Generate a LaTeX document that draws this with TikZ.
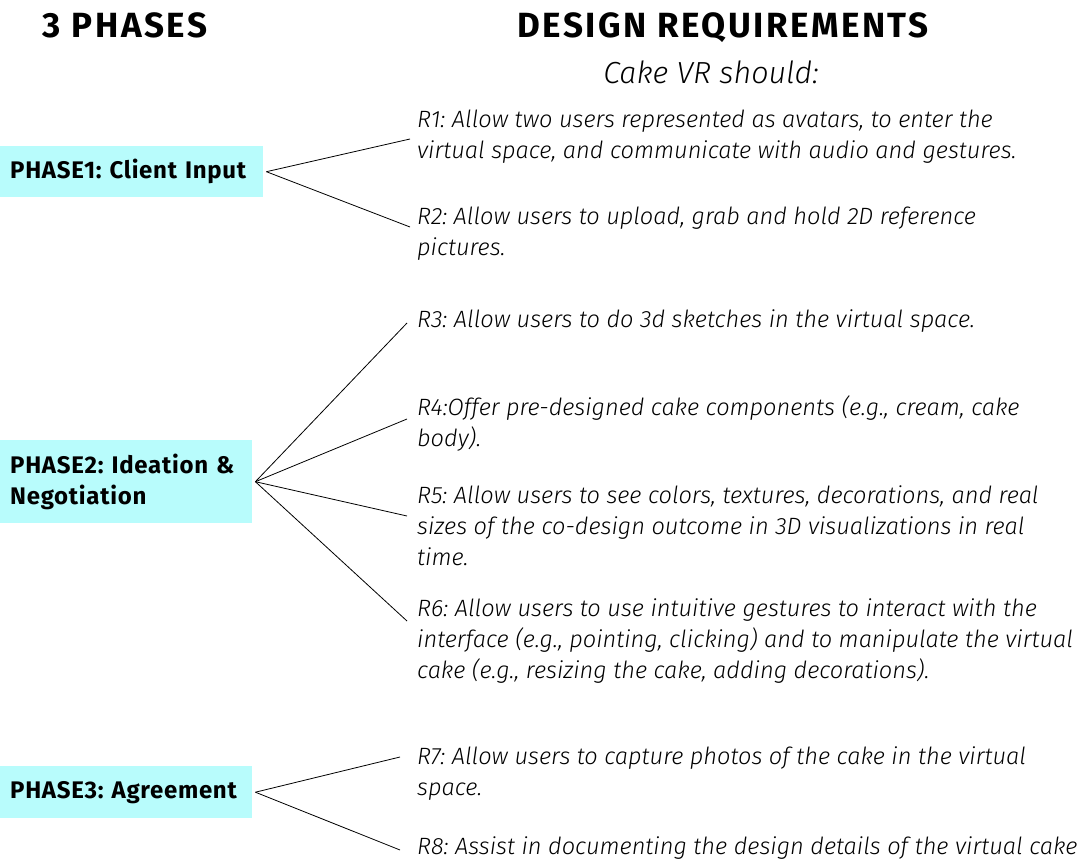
\documentclass[tikz,border=0pt]{standalone}
\usepackage{fontspec}
\setmainfont{Fira Sans}
\newfontfamily\reqfont{Fira Sans Light Italic}
\newfontfamily\headfont{Fira Sans}[LetterSpace=7]
\newfontfamily\phasefont{Fira Sans}[LetterSpace=3]
\usepackage{tikz}
\usetikzlibrary{positioning,calc}

\definecolor{phasecyan}{HTML}{B8FCFC}

\tikzset{
  heading/.style={anchor=base, inner sep=0, font=\headfont\bfseries\fontsize{35}{38}\selectfont},
  phase/.style={fill=phasecyan, anchor=north west, align=left, inner xsep=10pt, inner ysep=0,
    font=\phasefont\bfseries\fontsize{24}{31}\selectfont},
  req/.style={anchor=north west, align=left, inner sep=0,
    font=\reqfont\fontsize{23.6}{31}\selectfont, execute at begin node=\strut},
  link/.style={line width=0.8pt}
}

\begin{document}
\frenchspacing
\begin{tikzpicture}[x=1pt,y=-1pt]

\useasboundingbox (0,0) rectangle (1085,862);

% column headings
\node[heading] (hphase) at (125,37) {3 PHASES};
\node[heading] (hreq) at (723,37) {DESIGN REQUIREMENTS};
\node[anchor=base, inner sep=0, font=\reqfont\fontsize{30.5}{34}\selectfont] (should) at (711,83) {Cake VR should:};

% phases
\node[phase, text width=243pt, minimum height=51pt] (p1) at (0,146) {PHASE1: Client Input};
\node[phase, text width=232pt, minimum height=83pt] (p2) at (0,440) {PHASE2: Ideation \&\\Negotiation};
\node[phase, text width=232pt, minimum height=52pt] (p3) at (0,766) {PHASE3: Agreement};

% requirements
\node[req] (r1) at (417,109.3) {R1: Allow two users represented as avatars, to enter the\\virtual space, and communicate with audio and gestures.};
\node[req] (r2) at (417,206.3) {R2: Allow users to upload, grab and hold 2D reference\\pictures.};
\node[req] (r3) at (417,305.3) {R3: Allow users to do 3d sketches in the virtual space.};
\node[req] (r4) at (417,395.3) {R4:Offer pre-designed cake components (e.g., cream, cake\\body).};
\node[req] (r5) at (417,485.3) {R5: Allow users to see colors, textures, decorations, and real\\sizes of the co-design outcome in 3D visualizations in real\\time.};
\node[req] (r6) at (417,598.3) {R6: Allow users to use intuitive gestures to interact with the\\interface (e.g., pointing, clicking) and to manipulate the virtual\\cake (e.g., resizing the cake, adding decorations).};
\node[req] (r7) at (417,746.3) {R7: Allow users to capture photos of the cake in the virtual\\space.};
\node[req] (r8) at (417,832.3) {R8: Assist in documenting the design details of the virtual cake};

% links
\foreach \p/\r/\dx/\dy in {p1/r1/7/29.7, p1/r2/7/20.7, p2/r3/10/17.7, p2/r4/10/23.7, p2/r5/10/30.7, p2/r6/10/22.7, p3/r7/17/10.7, p3/r8/17/17.7}
{
\draw[link] ([xshift=3]\p.east) -- ([xshift=-\dx, yshift=-\dy]\r.north west);
}

\end{tikzpicture}
\end{document}
